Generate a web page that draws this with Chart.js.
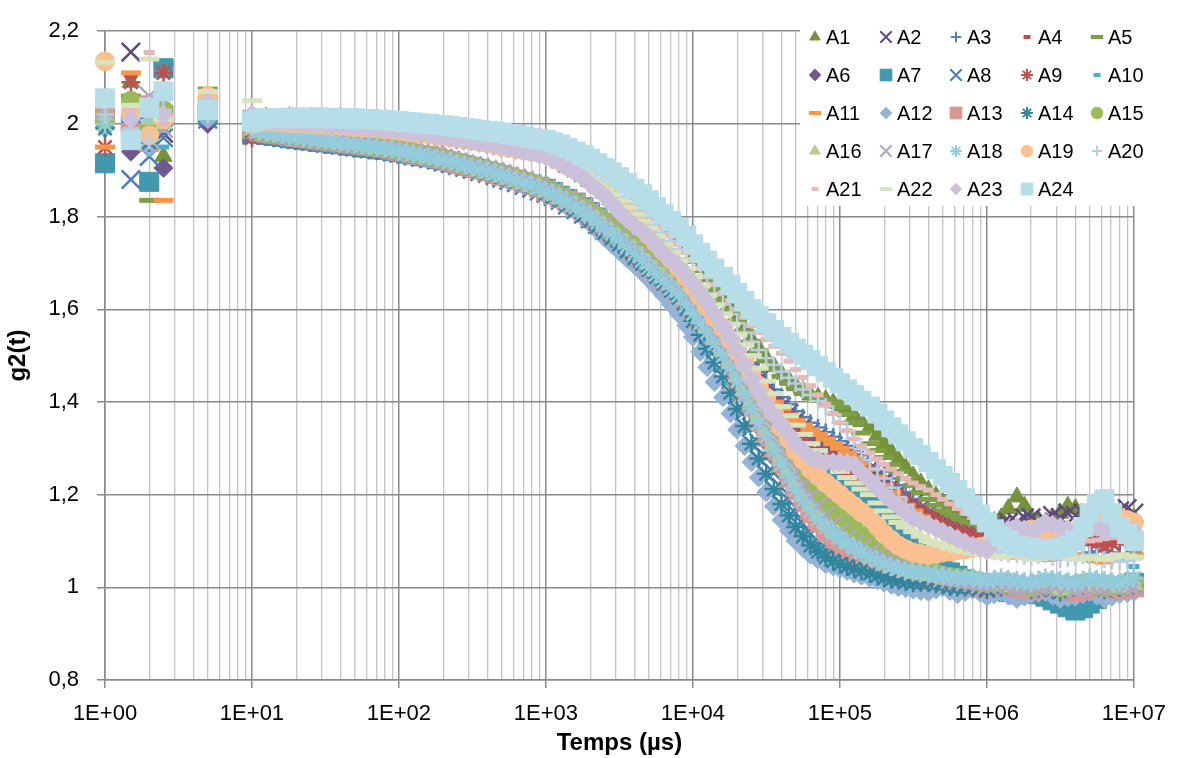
<!DOCTYPE html>
<html>
<head>
<meta charset="utf-8">
<title>g2(t)</title>
<script src="https://cdn.jsdelivr.net/npm/chart.js@4.4.1/dist/chart.umd.min.js"></script>
<style>
  html, body { margin: 0; padding: 0; background: #ffffff; }
  #wrap { width: 1179px; height: 758px; }
</style>
</head>
<body>
<div id="wrap"><canvas id="g2Chart" width="1179" height="758"></canvas></div>
<script>
// temps de corrélation (µs)
const lagTimes = [1, 1.5, 2, 2.5, 5,
  10, 11.2, 12.5, 14, 16, 18, 20, 22.4, 25, 28, 31.5, 35.5, 40, 45, 50, 56, 63, 71, 80, 90,
  100, 112, 125, 140, 160, 180, 200, 224, 250, 280, 315, 355, 400, 450, 500, 560, 630, 710, 800, 900,
  1000, 1120, 1250, 1400, 1600, 1800, 2000, 2240, 2500, 2800, 3150, 3550, 4000, 4500, 5000, 5600, 6300, 7100, 8000, 9000,
  10000, 11200, 12500, 14000, 16000, 18000, 20000, 22400, 25000, 28000, 31500, 35500, 40000, 45000, 50000, 56000, 63000, 71000, 80000, 90000,
  100000, 112000, 125000, 140000, 160000, 180000, 200000, 224000, 250000, 280000, 315000, 355000, 400000, 450000, 500000, 560000, 630000, 710000, 800000, 900000,
  1000000, 1120000, 1250000, 1400000, 1600000, 1800000, 2000000, 2240000, 2500000, 2800000, 3150000, 3550000, 4000000, 4500000, 5000000, 5600000, 6300000, 7100000, 8000000, 9000000,
  10000000];

const seriesNames = ['A1', 'A2', 'A3', 'A4', 'A5', 'A6', 'A7', 'A8', 'A9', 'A10', 'A11', 'A12',
  'A13', 'A14', 'A15', 'A16', 'A17', 'A18', 'A19', 'A20', 'A21', 'A22', 'A23', 'A24'];

// g2(t), une ligne par décade
const a1 = [2.02, 2.09, 2.0, 1.93, 2.03,
  2.01, 2.012, 2.015, 2.01, 2.013, 2.016, 2.012, 2.01, 2.015, 2.011, 2.012, 2.009, 2.014, 2.01, 2.011, 2.008, 2.01, 2.006, 2.007, 2.005,
  2.004, 2.003, 2.0, 2.0, 1.998, 1.997, 1.995, 1.994, 1.991, 1.99, 1.987, 1.986, 1.983, 1.982, 1.979, 1.977, 1.975, 1.972, 1.97, 1.967,
  1.965, 1.96, 1.955, 1.948, 1.94, 1.933, 1.925, 1.915, 1.905, 1.893, 1.88, 1.866, 1.85, 1.835, 1.82, 1.803, 1.785, 1.768, 1.75, 1.73,
  1.71, 1.69, 1.67, 1.648, 1.625, 1.603, 1.58, 1.558, 1.535, 1.515, 1.495, 1.477, 1.46, 1.447, 1.435, 1.425, 1.415, 1.41, 1.405, 1.398,
  1.39, 1.38, 1.37, 1.358, 1.345, 1.328, 1.31, 1.293, 1.275, 1.258, 1.24, 1.225, 1.21, 1.197, 1.185, 1.175, 1.165, 1.157, 1.15, 1.147,
  1.145, 1.142, 1.15, 1.17, 1.195, 1.175, 1.15, 1.145, 1.14, 1.15, 1.16, 1.175, 1.17, 1.155, 1.14, 1.145, 1.15, 1.16, 1.16, 1.155,
  1.15];
const a2 = [2.01, 2.155, 2.03, 1.98, 2.02,
  2.0, 2.004, 2.006, 2.003, 2.004, 2.001, 2.003, 2.0, 2.001, 1.998, 1.999, 1.996, 1.997, 1.994, 1.995, 1.992, 1.993, 1.99, 1.99, 1.987,
  1.986, 1.983, 1.982, 1.979, 1.978, 1.975, 1.974, 1.971, 1.97, 1.967, 1.965, 1.963, 1.96, 1.957, 1.954, 1.951, 1.948, 1.945, 1.942, 1.939,
  1.94, 1.933, 1.925, 1.915, 1.905, 1.895, 1.885, 1.873, 1.86, 1.845, 1.83, 1.815, 1.80, 1.783, 1.765, 1.748, 1.73, 1.71, 1.69, 1.67,
  1.65, 1.628, 1.605, 1.583, 1.56, 1.538, 1.515, 1.493, 1.47, 1.447, 1.425, 1.407, 1.39, 1.375, 1.36, 1.347, 1.335, 1.325, 1.315, 1.305,
  1.295, 1.285, 1.275, 1.265, 1.255, 1.243, 1.23, 1.218, 1.205, 1.193, 1.18, 1.17, 1.16, 1.152, 1.145, 1.14, 1.135, 1.132, 1.13, 1.13,
  1.13, 1.135, 1.135, 1.14, 1.14, 1.15, 1.15, 1.14, 1.145, 1.155, 1.15, 1.16, 1.155, 1.16, 1.16, 1.17, 1.17, 1.165, 1.165, 1.17,
  1.16];
const a3 = [2.0, 2.02, 1.99, 2.0, 2.01,
  1.99, 2.0, 2.003, 2.002, 2.0, 2.001, 2.0, 1.998, 1.999, 1.997, 1.997, 1.995, 1.995, 1.993, 1.993, 1.991, 1.99, 1.989, 1.988, 1.987,
  1.985, 1.984, 1.982, 1.98, 1.978, 1.977, 1.975, 1.973, 1.971, 1.969, 1.967, 1.965, 1.963, 1.96, 1.958, 1.955, 1.952, 1.95, 1.947, 1.946,
  1.945, 1.938, 1.93, 1.92, 1.91, 1.9, 1.89, 1.878, 1.865, 1.853, 1.84, 1.825, 1.81, 1.793, 1.775, 1.758, 1.74, 1.72, 1.70, 1.68,
  1.66, 1.64, 1.62, 1.598, 1.575, 1.553, 1.53, 1.508, 1.485, 1.465, 1.445, 1.427, 1.41, 1.395, 1.38, 1.367, 1.355, 1.345, 1.335, 1.325,
  1.315, 1.305, 1.295, 1.285, 1.275, 1.263, 1.25, 1.235, 1.22, 1.205, 1.19, 1.178, 1.165, 1.152, 1.14, 1.13, 1.12, 1.112, 1.105, 1.1,
  1.095, 1.092, 1.09, 1.085, 1.08, 1.082, 1.085, 1.08, 1.075, 1.078, 1.08, 1.075, 1.07, 1.072, 1.075, 1.078, 1.08, 1.075, 1.07, 1.072,
  1.075];
const a4 = [2.03, 2.1, 1.98, 2.01, 2.02,
  2.0, 2.002, 2.004, 2.003, 2.002, 2.003, 2.001, 2.0, 2.0, 1.998, 1.998, 1.996, 1.996, 1.994, 1.994, 1.992, 1.991, 1.99, 1.988, 1.987,
  1.985, 1.983, 1.981, 1.979, 1.977, 1.975, 1.973, 1.971, 1.969, 1.967, 1.964, 1.962, 1.959, 1.956, 1.953, 1.95, 1.947, 1.944, 1.941, 1.938,
  1.94, 1.933, 1.925, 1.915, 1.905, 1.895, 1.885, 1.873, 1.86, 1.848, 1.835, 1.82, 1.805, 1.788, 1.77, 1.753, 1.735, 1.715, 1.695, 1.675,
  1.655, 1.633, 1.61, 1.588, 1.565, 1.543, 1.52, 1.498, 1.475, 1.452, 1.43, 1.412, 1.395, 1.38, 1.365, 1.352, 1.34, 1.33, 1.32, 1.31,
  1.30, 1.29, 1.28, 1.27, 1.26, 1.248, 1.235, 1.223, 1.21, 1.198, 1.185, 1.172, 1.16, 1.15, 1.14, 1.132, 1.125, 1.12, 1.115, 1.11,
  1.105, 1.10, 1.10, 1.105, 1.11, 1.105, 1.10, 1.095, 1.095, 1.10, 1.105, 1.11, 1.11, 1.105, 1.10, 1.095, 1.095, 1.10, 1.105, 1.10,
  1.10];
const a5 = [2.03, 2.06, 1.835, 2.13, 2.075,
  2.02, 2.01, 2.012, 2.015, 2.01, 2.012, 2.014, 2.01, 2.012, 2.013, 2.01, 2.011, 2.012, 2.009, 2.01, 2.01, 2.008, 2.009, 2.006, 2.005,
  2.004, 2.002, 2.002, 1.999, 1.998, 1.996, 1.995, 1.993, 1.991, 1.989, 1.987, 1.985, 1.983, 1.98, 1.978, 1.975, 1.972, 1.969, 1.966, 1.963,
  1.96, 1.955, 1.95, 1.943, 1.935, 1.928, 1.92, 1.91, 1.90, 1.888, 1.875, 1.86, 1.845, 1.83, 1.815, 1.798, 1.78, 1.763, 1.745, 1.725,
  1.705, 1.685, 1.665, 1.643, 1.62, 1.598, 1.575, 1.553, 1.53, 1.51, 1.49, 1.472, 1.455, 1.442, 1.43, 1.422, 1.415, 1.41, 1.405, 1.398,
  1.39, 1.373, 1.355, 1.333, 1.31, 1.295, 1.28, 1.265, 1.25, 1.235, 1.22, 1.205, 1.19, 1.177, 1.165, 1.155, 1.145, 1.137, 1.13, 1.125,
  1.12, 1.117, 1.115, 1.118, 1.12, 1.115, 1.11, 1.112, 1.115, 1.118, 1.12, 1.115, 1.11, 1.112, 1.115, 1.118, 1.12, 1.115, 1.11, 1.112,
  1.115];
const a6 = [2.04, 1.94, 1.99, 1.905, 2.0,
  2.01, 2.004, 2.005, 2.003, 2.004, 2.002, 2.002, 2.0, 2.001, 1.998, 1.998, 1.996, 1.997, 1.994, 1.994, 1.992, 1.992, 1.99, 1.989, 1.987,
  1.986, 1.984, 1.982, 1.98, 1.978, 1.976, 1.974, 1.972, 1.97, 1.968, 1.965, 1.963, 1.96, 1.957, 1.954, 1.951, 1.948, 1.945, 1.942, 1.939,
  1.94, 1.932, 1.925, 1.915, 1.905, 1.895, 1.885, 1.872, 1.86, 1.845, 1.83, 1.815, 1.80, 1.783, 1.765, 1.748, 1.73, 1.71, 1.69, 1.67,
  1.65, 1.627, 1.605, 1.582, 1.56, 1.537, 1.515, 1.492, 1.47, 1.447, 1.425, 1.407, 1.39, 1.372, 1.355, 1.342, 1.33, 1.32, 1.31, 1.302,
  1.295, 1.285, 1.275, 1.263, 1.25, 1.238, 1.225, 1.21, 1.195, 1.182, 1.17, 1.16, 1.15, 1.142, 1.135, 1.127, 1.12, 1.115, 1.11, 1.107,
  1.105, 1.102, 1.10, 1.105, 1.11, 1.107, 1.105, 1.102, 1.10, 1.105, 1.11, 1.112, 1.115, 1.11, 1.105, 1.102, 1.10, 1.105, 1.11, 1.107,
  1.105];
const a7 = [1.915, 2.0, 1.875, 2.12, 2.02,
  1.98, 1.978, 1.976, 1.974, 1.972, 1.969, 1.968, 1.965, 1.964, 1.961, 1.96, 1.957, 1.956, 1.953, 1.952, 1.949, 1.948, 1.945, 1.944, 1.941,
  1.939, 1.936, 1.934, 1.93, 1.928, 1.924, 1.921, 1.917, 1.914, 1.91, 1.906, 1.902, 1.898, 1.893, 1.889, 1.884, 1.879, 1.874, 1.869, 1.864,
  1.86, 1.853, 1.845, 1.838, 1.83, 1.82, 1.81, 1.798, 1.785, 1.773, 1.76, 1.745, 1.73, 1.715, 1.70, 1.685, 1.67, 1.653, 1.635, 1.615,
  1.595, 1.573, 1.55, 1.528, 1.505, 1.48, 1.455, 1.43, 1.405, 1.382, 1.36, 1.34, 1.32, 1.305, 1.29, 1.277, 1.265, 1.255, 1.245, 1.237,
  1.23, 1.223, 1.215, 1.203, 1.19, 1.175, 1.16, 1.14, 1.12, 1.102, 1.085, 1.072, 1.06, 1.05, 1.04, 1.032, 1.025, 1.017, 1.01, 1.005,
  1.0, 0.998, 0.995, 0.99, 0.985, 0.988, 0.99, 0.985, 0.98, 0.972, 0.965, 0.957, 0.95, 0.955, 0.965, 0.975, 0.985, 0.99, 0.995, 1.002,
  1.01];
const a8 = [2.01, 1.88, 1.93, 1.97, 2.01,
  1.975, 1.979, 1.976, 1.974, 1.97, 1.969, 1.966, 1.965, 1.962, 1.961, 1.958, 1.957, 1.954, 1.953, 1.95, 1.949, 1.946, 1.945, 1.942, 1.94,
  1.937, 1.934, 1.931, 1.928, 1.925, 1.922, 1.918, 1.914, 1.91, 1.906, 1.902, 1.897, 1.893, 1.888, 1.883, 1.878, 1.873, 1.867, 1.861, 1.855,
  1.85, 1.843, 1.835, 1.825, 1.815, 1.805, 1.795, 1.783, 1.77, 1.758, 1.745, 1.73, 1.715, 1.703, 1.69, 1.675, 1.66, 1.645, 1.63, 1.61,
  1.59, 1.565, 1.54, 1.51, 1.48, 1.448, 1.415, 1.38, 1.345, 1.312, 1.28, 1.247, 1.215, 1.187, 1.16, 1.137, 1.115, 1.1, 1.085, 1.075,
  1.065, 1.057, 1.05, 1.042, 1.035, 1.03, 1.025, 1.022, 1.02, 1.017, 1.015, 1.012, 1.01, 1.01, 1.01, 1.007, 1.005, 1.002, 1.0, 1.0,
  1.0, 1.002, 1.005, 1.0, 0.995, 0.998, 1.0, 0.995, 0.99, 0.995, 1.0, 0.992, 0.985, 0.99, 0.995, 0.998, 1.0, 0.995, 0.99, 0.995,
  1.0];
const a9 = [1.95, 2.09, 2.0, 2.11, 2.03,
  1.97, 1.98, 1.977, 1.975, 1.972, 1.97, 1.967, 1.966, 1.963, 1.962, 1.959, 1.958, 1.955, 1.954, 1.951, 1.95, 1.947, 1.946, 1.943, 1.941,
  1.938, 1.935, 1.932, 1.929, 1.926, 1.922, 1.919, 1.915, 1.911, 1.907, 1.903, 1.898, 1.894, 1.889, 1.884, 1.879, 1.874, 1.868, 1.862, 1.856,
  1.85, 1.843, 1.835, 1.825, 1.815, 1.805, 1.795, 1.783, 1.77, 1.758, 1.745, 1.73, 1.715, 1.70, 1.685, 1.67, 1.655, 1.638, 1.62, 1.603,
  1.585, 1.568, 1.55, 1.53, 1.51, 1.49, 1.47, 1.45, 1.43, 1.41, 1.39, 1.372, 1.355, 1.34, 1.325, 1.312, 1.30, 1.29, 1.28, 1.27,
  1.26, 1.252, 1.245, 1.238, 1.23, 1.22, 1.21, 1.20, 1.19, 1.18, 1.17, 1.16, 1.15, 1.142, 1.135, 1.127, 1.12, 1.115, 1.11, 1.107,
  1.105, 1.102, 1.10, 1.105, 1.11, 1.105, 1.10, 1.095, 1.09, 1.095, 1.10, 1.105, 1.11, 1.105, 1.10, 1.095, 1.09, 1.095, 1.10, 1.105,
  1.11];
const a10 = [2.0, 1.99, 2.02, 1.95, 2.02,
  1.985, 1.982, 1.979, 1.977, 1.974, 1.972, 1.97, 1.968, 1.966, 1.964, 1.962, 1.96, 1.958, 1.956, 1.954, 1.952, 1.95, 1.948, 1.946, 1.943,
  1.94, 1.937, 1.934, 1.931, 1.928, 1.925, 1.921, 1.917, 1.913, 1.909, 1.905, 1.90, 1.896, 1.891, 1.886, 1.881, 1.876, 1.871, 1.866, 1.86,
  1.855, 1.848, 1.84, 1.83, 1.82, 1.808, 1.795, 1.783, 1.77, 1.755, 1.74, 1.725, 1.71, 1.695, 1.68, 1.665, 1.65, 1.633, 1.615, 1.59,
  1.565, 1.535, 1.505, 1.473, 1.44, 1.408, 1.375, 1.34, 1.305, 1.272, 1.24, 1.21, 1.18, 1.157, 1.135, 1.117, 1.10, 1.087, 1.075, 1.067,
  1.06, 1.052, 1.045, 1.04, 1.035, 1.03, 1.025, 1.022, 1.02, 1.017, 1.015, 1.012, 1.01, 1.007, 1.005, 1.008, 1.01, 1.005, 1.0, 1.002,
  1.005, 1.0, 0.995, 0.998, 1.0, 1.005, 1.01, 1.005, 1.0, 0.998, 0.995, 1.0, 1.005, 1.002, 1.0, 0.995, 0.99, 0.998, 1.005, 1.02,
  1.045];
const a11 = [1.95, 2.11, 1.945, 1.835, 2.03,
  1.975, 1.981, 1.978, 1.976, 1.973, 1.971, 1.969, 1.967, 1.965, 1.963, 1.961, 1.959, 1.957, 1.955, 1.953, 1.951, 1.949, 1.947, 1.945, 1.942,
  1.94, 1.937, 1.934, 1.931, 1.928, 1.925, 1.922, 1.918, 1.914, 1.91, 1.906, 1.902, 1.898, 1.893, 1.888, 1.884, 1.879, 1.874, 1.869, 1.864,
  1.86, 1.853, 1.845, 1.838, 1.83, 1.82, 1.81, 1.80, 1.79, 1.778, 1.765, 1.753, 1.74, 1.725, 1.71, 1.695, 1.68, 1.663, 1.645, 1.628,
  1.61, 1.59, 1.57, 1.55, 1.53, 1.51, 1.49, 1.47, 1.45, 1.432, 1.415, 1.40, 1.385, 1.372, 1.36, 1.35, 1.34, 1.33, 1.32, 1.31,
  1.30, 1.29, 1.28, 1.268, 1.255, 1.238, 1.22, 1.205, 1.19, 1.177, 1.165, 1.152, 1.14, 1.13, 1.12, 1.11, 1.10, 1.092, 1.085, 1.08,
  1.075, 1.072, 1.07, 1.067, 1.065, 1.068, 1.07, 1.065, 1.06, 1.062, 1.065, 1.068, 1.07, 1.065, 1.06, 1.057, 1.055, 1.058, 1.06, 1.065,
  1.07];
const a12 = [1.99, 2.03, 1.95, 2.0, 2.01,
  1.985, 1.981, 1.979, 1.976, 1.974, 1.971, 1.969, 1.967, 1.965, 1.963, 1.961, 1.959, 1.957, 1.955, 1.953, 1.951, 1.949, 1.947, 1.944, 1.942,
  1.939, 1.936, 1.933, 1.93, 1.927, 1.923, 1.92, 1.916, 1.912, 1.908, 1.903, 1.899, 1.894, 1.889, 1.884, 1.879, 1.874, 1.868, 1.862, 1.856,
  1.845, 1.838, 1.83, 1.82, 1.81, 1.798, 1.785, 1.77, 1.755, 1.74, 1.725, 1.71, 1.695, 1.68, 1.665, 1.648, 1.63, 1.61, 1.59, 1.565,
  1.54, 1.508, 1.475, 1.443, 1.41, 1.375, 1.34, 1.305, 1.27, 1.237, 1.205, 1.175, 1.145, 1.122, 1.10, 1.085, 1.07, 1.06, 1.05, 1.045,
  1.04, 1.035, 1.03, 1.025, 1.02, 1.015, 1.01, 1.005, 1.0, 0.998, 0.995, 0.992, 0.99, 0.995, 1.0, 0.992, 0.985, 0.99, 0.995, 0.988,
  0.98, 0.985, 0.99, 0.982, 0.975, 0.98, 0.985, 0.988, 0.99, 0.982, 0.975, 0.978, 0.98, 0.985, 0.99, 0.982, 0.975, 0.98, 0.985, 0.988,
  0.99];
const a13 = [2.02, 1.98, 2.04, 2.02, 2.04,
  1.99, 1.984, 1.981, 1.979, 1.977, 1.974, 1.972, 1.97, 1.968, 1.966, 1.964, 1.962, 1.96, 1.958, 1.956, 1.954, 1.952, 1.95, 1.948, 1.945,
  1.942, 1.939, 1.936, 1.933, 1.93, 1.927, 1.923, 1.919, 1.915, 1.911, 1.907, 1.903, 1.898, 1.894, 1.889, 1.884, 1.879, 1.874, 1.869, 1.863,
  1.855, 1.848, 1.84, 1.833, 1.825, 1.813, 1.80, 1.79, 1.78, 1.768, 1.755, 1.74, 1.725, 1.71, 1.695, 1.68, 1.665, 1.65, 1.635, 1.618,
  1.60, 1.578, 1.555, 1.53, 1.505, 1.478, 1.45, 1.42, 1.39, 1.357, 1.325, 1.295, 1.265, 1.237, 1.21, 1.185, 1.16, 1.14, 1.12, 1.105,
  1.09, 1.08, 1.07, 1.062, 1.055, 1.047, 1.04, 1.035, 1.03, 1.027, 1.025, 1.022, 1.02, 1.017, 1.015, 1.012, 1.01, 1.007, 1.005, 1.002,
  1.0, 1.005, 1.01, 1.005, 1.0, 0.998, 0.995, 1.0, 1.005, 1.002, 1.0, 0.995, 0.99, 0.995, 1.0, 1.002, 1.005, 1.0, 0.995, 0.998,
  1.0];
const a14 = [1.99, 2.02, 1.96, 2.01, 2.02,
  1.985, 1.982, 1.98, 1.977, 1.975, 1.972, 1.97, 1.968, 1.966, 1.964, 1.962, 1.96, 1.958, 1.956, 1.954, 1.952, 1.95, 1.948, 1.946, 1.943,
  1.94, 1.937, 1.934, 1.931, 1.928, 1.925, 1.921, 1.917, 1.913, 1.909, 1.905, 1.90, 1.896, 1.891, 1.886, 1.881, 1.876, 1.871, 1.866, 1.86,
  1.85, 1.843, 1.835, 1.825, 1.815, 1.803, 1.79, 1.778, 1.765, 1.753, 1.74, 1.725, 1.71, 1.698, 1.685, 1.67, 1.655, 1.64, 1.625, 1.60,
  1.575, 1.545, 1.515, 1.485, 1.455, 1.42, 1.385, 1.348, 1.31, 1.278, 1.245, 1.212, 1.18, 1.155, 1.13, 1.11, 1.09, 1.077, 1.065, 1.057,
  1.05, 1.045, 1.04, 1.035, 1.03, 1.025, 1.02, 1.017, 1.015, 1.012, 1.01, 1.01, 1.01, 1.007, 1.005, 1.002, 1.0, 1.0, 1.0, 0.998,
  0.995, 0.998, 1.0, 1.005, 1.01, 1.002, 0.995, 0.998, 1.0, 0.995, 0.99, 0.995, 1.0, 1.005, 1.01, 1.002, 0.995, 0.998, 1.0, 1.002,
  1.005];
const a15 = [2.01, 2.05, 1.99, 2.03, 2.035,
  1.995, 1.985, 1.982, 1.98, 1.978, 1.976, 1.974, 1.972, 1.97, 1.968, 1.966, 1.964, 1.962, 1.96, 1.958, 1.956, 1.954, 1.952, 1.95, 1.947,
  1.944, 1.941, 1.938, 1.935, 1.932, 1.929, 1.925, 1.922, 1.918, 1.914, 1.91, 1.906, 1.901, 1.897, 1.892, 1.888, 1.883, 1.878, 1.872, 1.866,
  1.86, 1.853, 1.845, 1.838, 1.83, 1.82, 1.81, 1.80, 1.79, 1.778, 1.765, 1.753, 1.74, 1.725, 1.71, 1.695, 1.68, 1.665, 1.65, 1.633,
  1.615, 1.595, 1.575, 1.553, 1.53, 1.505, 1.48, 1.453, 1.425, 1.398, 1.37, 1.343, 1.315, 1.29, 1.265, 1.242, 1.22, 1.202, 1.185, 1.17,
  1.155, 1.14, 1.125, 1.112, 1.10, 1.09, 1.08, 1.07, 1.06, 1.052, 1.045, 1.04, 1.035, 1.03, 1.025, 1.022, 1.02, 1.017, 1.015, 1.012,
  1.01, 1.01, 1.01, 1.007, 1.005, 1.002, 1.0, 1.005, 1.01, 1.005, 1.0, 1.002, 1.005, 1.008, 1.01, 1.005, 1.0, 1.002, 1.005, 1.008,
  1.01];
const a16 = [2.02, 1.97, 2.01, 2.0, 2.04,
  2.0, 1.984, 1.982, 1.979, 1.977, 1.975, 1.973, 1.971, 1.969, 1.967, 1.965, 1.963, 1.961, 1.959, 1.957, 1.955, 1.953, 1.951, 1.949, 1.946,
  1.943, 1.94, 1.937, 1.934, 1.931, 1.928, 1.924, 1.921, 1.917, 1.913, 1.909, 1.905, 1.9, 1.896, 1.891, 1.887, 1.882, 1.876, 1.87, 1.863,
  1.855, 1.848, 1.84, 1.833, 1.825, 1.815, 1.805, 1.793, 1.78, 1.768, 1.755, 1.743, 1.73, 1.715, 1.70, 1.685, 1.67, 1.655, 1.64, 1.62,
  1.60, 1.58, 1.56, 1.535, 1.51, 1.483, 1.455, 1.428, 1.40, 1.37, 1.34, 1.31, 1.28, 1.253, 1.225, 1.20, 1.175, 1.155, 1.135, 1.12,
  1.105, 1.095, 1.085, 1.075, 1.065, 1.057, 1.05, 1.045, 1.04, 1.035, 1.03, 1.027, 1.025, 1.022, 1.02, 1.017, 1.015, 1.012, 1.01, 1.01,
  1.01, 1.007, 1.005, 1.002, 1.0, 1.005, 1.01, 1.007, 1.005, 1.0, 0.995, 1.0, 1.005, 1.002, 1.0, 1.005, 1.01, 1.005, 1.0, 1.002,
  1.005];
const a17 = [2.03, 2.0, 2.06, 1.99, 2.03,
  2.01, 1.986, 1.983, 1.981, 1.979, 1.977, 1.975, 1.972, 1.97, 1.968, 1.966, 1.964, 1.962, 1.96, 1.958, 1.956, 1.954, 1.952, 1.95, 1.947,
  1.944, 1.941, 1.938, 1.935, 1.932, 1.929, 1.926, 1.922, 1.918, 1.914, 1.91, 1.906, 1.902, 1.897, 1.893, 1.888, 1.883, 1.878, 1.872, 1.866,
  1.86, 1.853, 1.845, 1.838, 1.83, 1.82, 1.81, 1.798, 1.785, 1.773, 1.76, 1.748, 1.735, 1.72, 1.705, 1.69, 1.675, 1.66, 1.645, 1.628,
  1.61, 1.59, 1.57, 1.548, 1.525, 1.50, 1.475, 1.448, 1.42, 1.39, 1.36, 1.33, 1.30, 1.272, 1.245, 1.22, 1.195, 1.175, 1.155, 1.137,
  1.12, 1.107, 1.095, 1.085, 1.075, 1.067, 1.06, 1.052, 1.045, 1.04, 1.035, 1.032, 1.03, 1.025, 1.02, 1.017, 1.015, 1.012, 1.01, 1.007,
  1.005, 1.008, 1.01, 1.005, 1.0, 1.002, 1.005, 1.002, 1.0, 1.005, 1.01, 1.002, 0.995, 1.0, 1.005, 1.002, 1.0, 1.005, 1.01, 1.005,
  1.0];
const a18 = [2.0, 1.97, 2.02, 2.01, 2.02,
  1.99, 1.983, 1.981, 1.978, 1.976, 1.973, 1.971, 1.969, 1.967, 1.965, 1.963, 1.961, 1.959, 1.957, 1.955, 1.953, 1.951, 1.949, 1.947, 1.944,
  1.941, 1.938, 1.935, 1.932, 1.929, 1.926, 1.922, 1.918, 1.914, 1.91, 1.906, 1.902, 1.897, 1.893, 1.888, 1.883, 1.878, 1.873, 1.867, 1.861,
  1.855, 1.848, 1.84, 1.83, 1.82, 1.81, 1.80, 1.788, 1.775, 1.763, 1.75, 1.735, 1.72, 1.705, 1.69, 1.675, 1.66, 1.645, 1.63, 1.61,
  1.59, 1.57, 1.55, 1.525, 1.50, 1.473, 1.445, 1.415, 1.385, 1.355, 1.325, 1.295, 1.265, 1.237, 1.21, 1.187, 1.165, 1.147, 1.13, 1.117,
  1.105, 1.095, 1.085, 1.075, 1.065, 1.057, 1.05, 1.045, 1.04, 1.037, 1.035, 1.032, 1.03, 1.027, 1.025, 1.022, 1.02, 1.02, 1.02, 1.017,
  1.015, 1.017, 1.02, 1.017, 1.015, 1.012, 1.01, 1.015, 1.02, 1.017, 1.015, 1.012, 1.01, 1.015, 1.02, 1.017, 1.015, 1.012, 1.01, 1.015,
  1.02];
const a19 = [2.135, 2.02, 1.975, 2.01, 2.06,
  2.0, 2.004, 2.005, 2.004, 2.003, 2.002, 2.002, 2.0, 2.0, 1.998, 1.998, 1.996, 1.996, 1.994, 1.993, 1.992, 1.991, 1.99, 1.988, 1.987,
  1.985, 1.983, 1.981, 1.979, 1.977, 1.975, 1.973, 1.971, 1.969, 1.966, 1.964, 1.961, 1.958, 1.955, 1.952, 1.949, 1.946, 1.943, 1.94, 1.937,
  1.935, 1.928, 1.92, 1.91, 1.90, 1.89, 1.88, 1.868, 1.855, 1.84, 1.825, 1.81, 1.795, 1.778, 1.76, 1.743, 1.725, 1.708, 1.69, 1.67,
  1.65, 1.628, 1.605, 1.583, 1.56, 1.535, 1.51, 1.485, 1.46, 1.435, 1.41, 1.377, 1.345, 1.32, 1.295, 1.275, 1.255, 1.24, 1.225, 1.212,
  1.20, 1.187, 1.175, 1.162, 1.15, 1.132, 1.115, 1.102, 1.09, 1.082, 1.075, 1.072, 1.07, 1.072, 1.075, 1.077, 1.08, 1.082, 1.085, 1.087,
  1.09, 1.095, 1.10, 1.105, 1.11, 1.118, 1.125, 1.122, 1.12, 1.115, 1.11, 1.115, 1.12, 1.125, 1.13, 1.135, 1.14, 1.145, 1.15, 1.145,
  1.14];
const a20 = [2.02, 1.99, 1.963, 2.03, 2.02,
  1.995, 2.005, 2.008, 2.01, 2.007, 2.01, 2.008, 2.006, 2.01, 2.008, 2.009, 2.007, 2.008, 2.006, 2.007, 2.005, 2.006, 2.004, 2.003, 2.002,
  2.0, 1.999, 1.998, 1.996, 1.995, 1.993, 1.992, 1.99, 1.988, 1.986, 1.984, 1.982, 1.98, 1.978, 1.976, 1.973, 1.97, 1.967, 1.964, 1.96,
  1.955, 1.948, 1.94, 1.933, 1.925, 1.915, 1.905, 1.895, 1.885, 1.873, 1.86, 1.845, 1.83, 1.815, 1.80, 1.783, 1.765, 1.748, 1.73, 1.71,
  1.69, 1.67, 1.65, 1.63, 1.61, 1.59, 1.57, 1.55, 1.53, 1.512, 1.495, 1.48, 1.465, 1.452, 1.44, 1.427, 1.415, 1.402, 1.39, 1.373,
  1.355, 1.338, 1.32, 1.298, 1.275, 1.255, 1.235, 1.215, 1.195, 1.177, 1.16, 1.145, 1.13, 1.12, 1.11, 1.102, 1.095, 1.09, 1.085, 1.082,
  1.08, 1.077, 1.075, 1.072, 1.07, 1.067, 1.065, 1.068, 1.07, 1.065, 1.06, 1.062, 1.065, 1.068, 1.07, 1.065, 1.06, 1.057, 1.055, 1.057,
  1.06];
const a21 = [2.07, 2.03, 2.154, 2.0, 2.04,
  2.01, 2.012, 2.01, 2.013, 2.012, 2.01, 2.014, 2.012, 2.011, 2.013, 2.01, 2.012, 2.01, 2.011, 2.009, 2.01, 2.008, 2.008, 2.006, 2.006,
  2.004, 2.003, 2.001, 2.0, 1.998, 1.997, 1.995, 1.993, 1.991, 1.99, 1.988, 1.986, 1.984, 1.981, 1.979, 1.976, 1.974, 1.971, 1.968, 1.964,
  1.96, 1.955, 1.95, 1.943, 1.935, 1.925, 1.915, 1.905, 1.895, 1.883, 1.87, 1.855, 1.84, 1.825, 1.81, 1.793, 1.775, 1.758, 1.74, 1.723,
  1.705, 1.688, 1.67, 1.653, 1.635, 1.618, 1.60, 1.583, 1.565, 1.55, 1.535, 1.52, 1.505, 1.488, 1.47, 1.453, 1.435, 1.415, 1.395, 1.375,
  1.355, 1.338, 1.32, 1.305, 1.29, 1.277, 1.265, 1.255, 1.245, 1.235, 1.225, 1.217, 1.21, 1.20, 1.19, 1.18, 1.17, 1.16, 1.15, 1.14,
  1.13, 1.125, 1.12, 1.115, 1.11, 1.107, 1.105, 1.102, 1.10, 1.102, 1.105, 1.107, 1.11, 1.105, 1.10, 1.102, 1.105, 1.107, 1.11, 1.105,
  1.10];
const a22 = [2.133, 2.04, 2.14, 2.01, 2.07,
  2.05, 2.02, 2.015, 2.012, 2.01, 2.008, 2.006, 2.005, 2.003, 2.002, 2.0, 1.999, 1.998, 1.997, 1.996, 1.995, 1.993, 1.992, 1.99, 1.989,
  1.987, 1.985, 1.983, 1.981, 1.979, 1.977, 1.975, 1.973, 1.97, 1.968, 1.966, 1.963, 1.96, 1.957, 1.954, 1.951, 1.948, 1.945, 1.942, 1.94,
  1.94, 1.933, 1.925, 1.915, 1.905, 1.895, 1.885, 1.873, 1.86, 1.848, 1.835, 1.82, 1.805, 1.79, 1.775, 1.758, 1.74, 1.723, 1.705, 1.688,
  1.67, 1.65, 1.63, 1.61, 1.59, 1.568, 1.545, 1.523, 1.50, 1.473, 1.445, 1.418, 1.39, 1.37, 1.35, 1.33, 1.31, 1.295, 1.28, 1.265,
  1.25, 1.237, 1.225, 1.212, 1.20, 1.182, 1.165, 1.152, 1.14, 1.13, 1.12, 1.11, 1.10, 1.095, 1.09, 1.085, 1.08, 1.077, 1.075, 1.072,
  1.07, 1.067, 1.065, 1.068, 1.07, 1.065, 1.06, 1.062, 1.065, 1.068, 1.07, 1.065, 1.06, 1.062, 1.065, 1.062, 1.06, 1.065, 1.07, 1.067,
  1.065];
const a23 = [2.05, 2.01, 2.04, 2.02, 2.045,
  2.02, 2.008, 2.006, 2.005, 2.004, 2.003, 2.003, 2.001, 2.0, 1.999, 1.998, 1.997, 1.996, 1.995, 1.994, 1.993, 1.991, 1.99, 1.988, 1.987,
  1.985, 1.983, 1.981, 1.979, 1.977, 1.975, 1.973, 1.97, 1.968, 1.965, 1.963, 1.96, 1.957, 1.954, 1.951, 1.948, 1.944, 1.941, 1.937, 1.934,
  1.93, 1.923, 1.915, 1.905, 1.895, 1.883, 1.87, 1.858, 1.845, 1.828, 1.81, 1.795, 1.78, 1.768, 1.755, 1.738, 1.72, 1.705, 1.69, 1.673,
  1.655, 1.635, 1.615, 1.59, 1.565, 1.538, 1.51, 1.48, 1.45, 1.422, 1.395, 1.372, 1.35, 1.33, 1.31, 1.295, 1.28, 1.275, 1.27, 1.27,
  1.27, 1.268, 1.265, 1.248, 1.23, 1.215, 1.20, 1.187, 1.175, 1.162, 1.15, 1.142, 1.135, 1.127, 1.12, 1.112, 1.105, 1.097, 1.09, 1.085,
  1.08, 1.10, 1.12, 1.125, 1.13, 1.125, 1.12, 1.13, 1.14, 1.135, 1.13, 1.125, 1.12, 1.13, 1.14, 1.13, 1.12, 1.125, 1.13, 1.125,
  1.12];
const a24 = [2.055, 1.965, 2.035, 2.07, 2.03,
  2.005, 2.01, 2.012, 2.012, 2.013, 2.012, 2.014, 2.013, 2.012, 2.014, 2.013, 2.012, 2.013, 2.011, 2.012, 2.01, 2.01, 2.009, 2.008, 2.007,
  2.006, 2.004, 2.003, 2.001, 2.0, 1.998, 1.997, 1.995, 1.993, 1.991, 1.989, 1.987, 1.985, 1.983, 1.981, 1.978, 1.976, 1.973, 1.97, 1.967,
  1.965, 1.96, 1.955, 1.948, 1.94, 1.933, 1.925, 1.915, 1.905, 1.895, 1.885, 1.873, 1.86, 1.848, 1.835, 1.82, 1.805, 1.79, 1.775, 1.758,
  1.74, 1.722, 1.705, 1.688, 1.67, 1.653, 1.635, 1.618, 1.60, 1.585, 1.57, 1.555, 1.54, 1.527, 1.515, 1.502, 1.49, 1.477, 1.465, 1.452,
  1.44, 1.427, 1.415, 1.402, 1.39, 1.375, 1.36, 1.345, 1.33, 1.315, 1.30, 1.285, 1.27, 1.255, 1.24, 1.225, 1.21, 1.193, 1.175, 1.157,
  1.14, 1.125, 1.11, 1.10, 1.09, 1.087, 1.085, 1.082, 1.08, 1.082, 1.085, 1.09, 1.10, 1.13, 1.16, 1.18, 1.19, 1.16, 1.13, 1.115,
  1.10];

const seriesValues = [a1, a2, a3, a4, a5, a6, a7, a8, a9, a10, a11, a12,
  a13, a14, a15, a16, a17, a18, a19, a20, a21, a22, a23, a24];

// couleurs et marqueurs des séries
const seriesColors = ['#76923C', '#604A7B', '#4F81BD', '#BE4B48', '#7F9F45', '#71588F',
  '#4298AF', '#4A7EBB', '#C0504D', '#4BACC6', '#F79646', '#95B3D7',
  '#D99694', '#31859C', '#9BBB59', '#B5CD8F', '#B3A2C7', '#93CDDD',
  '#FAC090', '#B9CDE5', '#E6B9B8', '#D7E4BD', '#CCC1DA', '#B7DEE8'];
const seriesMarkers = ['triangle', 'crossRot', 'cross', 'shortDash', 'longDash', 'rectRot',
  'rect', 'crossRot', 'star', 'shortDash', 'longDash', 'rectRot',
  'rect', 'star', 'circle', 'triangle', 'crossRot', 'star',
  'circle', 'cross', 'shortDash', 'longDash', 'rectRot', 'rect'];

const markerRadius = { triangle: 10, crossRot: 13, cross: 8.5, shortDash: 5.5, longDash: 10,
  rectRot: 9.5, rect: 13.5, star: 9.5, circle: 9.5 };

const FONT = "'Liberation Sans', Arial, sans-serif";

seriesValues.forEach((v, i) => {
  if (v.length !== lagTimes.length) throw new Error(seriesNames[i] + ' : ' + v.length + ' valeurs');
});

function pointStyleOf(m) {
  return (m === 'shortDash' || m === 'longDash') ? 'line' : m;
}

function borderWidthOf(m) {
  if (m === 'shortDash' || m === 'longDash') return 5;
  if (m === 'cross' || m === 'crossRot' || m === 'star') return 2.5;
  return 1;
}

function isDecade(v) {
  const l = Math.log10(v);
  return Math.abs(l - Math.round(l)) < 1e-9;
}

// lignes de grille log : 1..9 par décade
const gridTicks = [];
for (let e = 0; e <= 7; e++) {
  for (let m = 1; m <= 9; m++) {
    const v = m * Math.pow(10, e);
    if (v <= 1e7) gridTicks.push(v);
  }
}

const datasets = seriesNames.map((name, i) => {
  const m = seriesMarkers[i];
  return {
    label: name,
    data: lagTimes.map((t, k) => ({ x: t, y: seriesValues[i][k] })),
    pointStyle: pointStyleOf(m),
    pointRadius: markerRadius[m],
    pointBorderWidth: borderWidthOf(m),
    pointBackgroundColor: seriesColors[i],
    pointBorderColor: seriesColors[i],
    showLine: false,
    clip: false,
    order: seriesNames.length - i
  };
});

// légende dans un cadre blanc, 5 colonnes
const legendColX = [815, 886, 956, 1027, 1097];
const legendRowY = [37, 75, 113, 151, 189];

const boxLegend = {
  id: 'boxLegend',
  afterDatasetsDraw(chart) {
    const ctx = chart.ctx;
    ctx.save();
    ctx.fillStyle = '#ffffff';
    ctx.fillRect(800, 15, 362, 191);
    seriesNames.forEach((name, i) => {
      const m = seriesMarkers[i];
      const x = legendColX[i % 5];
      const y = legendRowY[Math.floor(i / 5)];
      const bw = borderWidthOf(m) === 5 ? 4 : borderWidthOf(m) * 0.8;
      ctx.fillStyle = seriesColors[i];
      ctx.strokeStyle = seriesColors[i];
      ctx.lineWidth = bw;
      Chart.helpers.drawPoint(ctx, {
        pointStyle: pointStyleOf(m),
        rotation: 0,
        radius: markerRadius[m] * 0.62,
        borderWidth: bw
      }, x, y);
      ctx.fillStyle = '#000000';
      ctx.font = '20px ' + FONT;
      ctx.textAlign = 'left';
      ctx.textBaseline = 'middle';
      ctx.fillText(name, x + 11, y + 1);
    });
    ctx.restore();
  }
};

new Chart(document.getElementById('g2Chart'), {
  type: 'scatter',
  data: { datasets: datasets },
  options: {
    responsive: false,
    animation: false,
    devicePixelRatio: 1,
    events: [],
    layout: { padding: { left: 0, right: 42, top: 20, bottom: 0 } },
    plugins: {
      legend: { display: false },
      tooltip: { enabled: false }
    },
    scales: {
      x: {
        type: 'logarithmic',
        min: 1,
        max: 1e7,
        afterBuildTicks: (scale) => {
          scale.ticks = gridTicks.map(v => ({ value: v }));
        },
        afterFit: (scale) => { scale.height = 78; },
        ticks: {
          autoSkip: false,
          maxRotation: 0,
          minRotation: 0,
          padding: 13,
          color: '#000000',
          font: { family: FONT, size: 22 },
          callback: (v) => isDecade(v) ? '1E+' + String(Math.round(Math.log10(v))).padStart(2, '0') : ''
        },
        grid: {
          color: (c) => (c.tick && isDecade(c.tick.value)) ? '#898989' : '#c4c4c4',
          lineWidth: (c) => (c.tick && isDecade(c.tick.value)) ? 1.5 : 1.3,
          tickColor: (c) => (c.tick && isDecade(c.tick.value)) ? '#898989' : 'rgba(0,0,0,0)',
          tickLength: 8
        },
        border: { color: '#898989', width: 1.5 },
        title: {
          display: true,
          text: 'Temps (µs)',
          color: '#000000',
          font: { family: FONT, size: 24, weight: 'bold' },
          padding: { top: 0, bottom: 0 }
        }
      },
      y: {
        min: 0.8,
        max: 2.2,
        afterFit: (scale) => { scale.width = 105; },
        ticks: {
          stepSize: 0.2,
          padding: 18,
          color: '#000000',
          font: { family: FONT, size: 22 },
          callback: (v) => {
            const r = Math.round(v * 10) / 10;
            return Number.isInteger(r) ? String(r) : String(r).replace('.', ',');
          }
        },
        grid: {
          color: '#898989',
          lineWidth: 1.5,
          tickColor: '#898989',
          tickLength: 8
        },
        border: { color: '#898989', width: 1.5 },
        title: {
          display: true,
          text: 'g2(t)',
          color: '#000000',
          font: { family: FONT, size: 24, weight: 'bold' },
          padding: { top: 4, bottom: 0 }
        }
      }
    }
  },
  plugins: [boxLegend]
});
</script>
</body>
</html>
